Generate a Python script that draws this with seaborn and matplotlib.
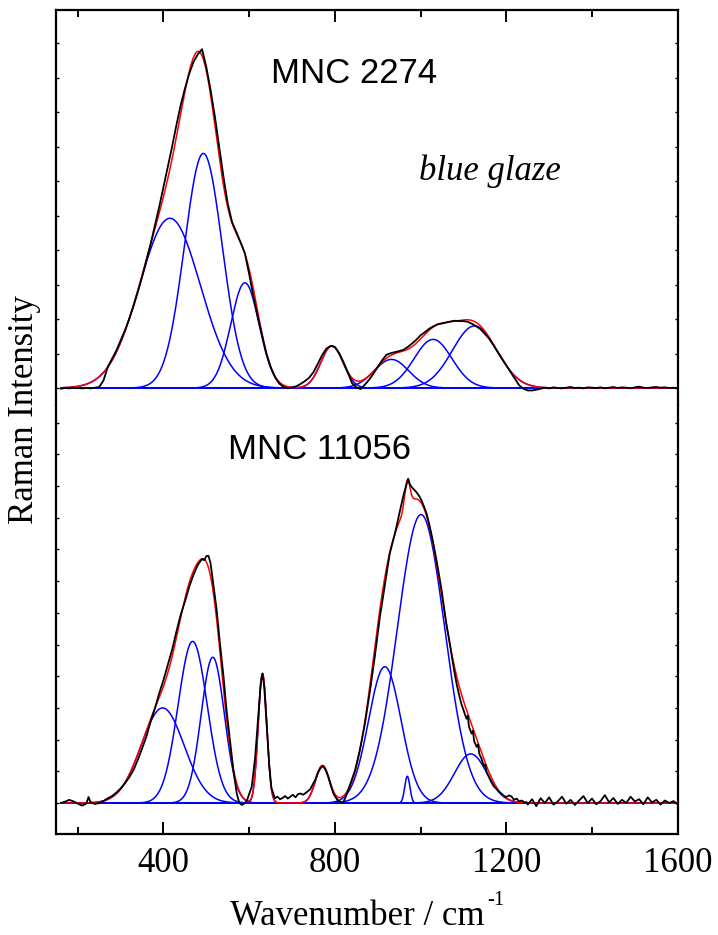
import numpy as np
import matplotlib
matplotlib.use("Agg")
import matplotlib.pyplot as plt
import seaborn as sns
from matplotlib.ticker import FixedLocator

# ---------------- data ----------------
x_major = [400, 800, 1200, 1600]
x_minor = [200, 600, 1000, 1400]

# fitted band parameters (position cm-1, height, FWHM cm-1)
top_centers = [415, 493, 590, 793, 932, 1029, 1126]
top_heights = [4.92, 6.80, 3.05, 1.22, 0.83, 1.41, 1.80]
top_fwhm = [167, 104, 78, 61, 94, 104, 122]

bot_centers = [398, 468, 515, 631, 771, 916.5, 969, 1001, 1117]
bot_heights = [3.00, 5.10, 4.60, 4.09, 1.18, 4.30, 0.85, 9.10, 1.55]
bot_fwhm = [118, 80, 64, 23.5, 38, 89.5, 14, 130, 89.5]

# measured spectrum MNC 2274 (blue glaze)
top_x = list(range(160, 1610, 10))
top_y = [-0.02, 0.0, -0.01, 0.01, 0.0, -0.01, 0.0, -0.01, 0.01, 0.03,
         0.22, 0.61, 0.85, 1.09, 1.38, 1.67, 2.0, 2.37, 2.78, 3.22,
         3.70, 4.18, 4.71, 5.25, 5.83, 6.41, 6.99, 7.61, 8.19, 8.68,
         9.11, 9.45, 9.67, 9.82, 9.30, 8.63, 7.86, 6.99, 6.12, 5.34,
         4.81, 4.52, 4.22, 3.90, 3.30, 2.64, 2.06, 1.53, 1.00, 0.61,
         0.32, 0.13, 0.03, -0.01, 0.02, 0.05, 0.12, 0.20, 0.30, 0.46,
         0.70, 0.95, 1.14, 1.22, 1.19, 1.01, 0.75, 0.46, 0.14, 0.02,
         -0.03, 0.10, 0.24, 0.42, 0.61, 0.80, 0.96, 1.01, 1.04, 1.07,
         1.11, 1.19, 1.29, 1.40, 1.53, 1.62, 1.72, 1.79, 1.85, 1.87,
         1.90, 1.93, 1.95, 1.94, 1.94, 1.92, 1.86, 1.79, 1.70, 1.57,
         1.43, 1.24, 1.04, 0.85, 0.66, 0.46, 0.27, 0.08, -0.02, -0.07,
         -0.07, -0.05, -0.02, 0.01, -0.01, 0.02, 0.0, -0.01, 0.01, 0.03,
         0.0, 0.01, -0.01, 0.02, 0.01, 0.0, 0.02, -0.01, 0.01, 0.03,
         0.0, 0.02, 0.01, -0.01, 0.02, 0.04, 0.01, 0.0, 0.02, 0.03,
         0.01, 0.02, 0.0, 0.01, -0.01]

# measured spectrum MNC 11056
bot_x = [160, 170, 180, 190, 200, 210, 220, 225, 230, 240, 250, 260, 270, 280,
         290, 300, 310, 320, 330, 340, 350, 360, 370, 380, 390, 400, 410, 420,
         430, 440, 450, 460, 470, 480, 490, 495, 500, 505, 510, 516, 524, 532,
         540, 547, 555, 563, 571, 577, 583, 590, 595, 606, 614, 621, 627, 631,
         635, 641, 647, 652, 660, 666, 672, 678, 684, 690, 696, 702, 708, 714,
         720, 726, 732, 742, 754, 760, 766, 772, 778, 784, 790, 797, 806, 812,
         818, 824, 835, 847, 858, 870, 882, 893, 905, 917, 928, 940, 952, 961,
         966, 971, 975, 979, 985, 990, 996, 1002, 1008, 1014, 1020, 1025, 1031,
         1037, 1043, 1049, 1055, 1060, 1066, 1072, 1078, 1084, 1090, 1095, 1101,
         1107, 1110, 1113, 1119, 1122, 1125, 1131, 1134, 1137, 1142, 1148, 1151,
         1154, 1160, 1165, 1171, 1177, 1183, 1189, 1195, 1200, 1206, 1212, 1218,
         1224, 1230, 1236, 1242, 1247, 1250, 1260, 1270, 1280, 1290, 1300, 1310,
         1320, 1330, 1340, 1350, 1360, 1370, 1380, 1390, 1400, 1410, 1420, 1430,
         1440, 1450, 1460, 1470, 1480, 1490, 1500, 1510, 1520, 1530, 1540, 1550,
         1560, 1570, 1580, 1590, 1600]
bot_y = [0.0, 0.04, 0.10, 0.05, -0.02, -0.08, -0.02, 0.19, 0.02, -0.03, 0.0, 0.06,
         0.15, 0.22, 0.33, 0.46, 0.62, 0.81, 1.04, 1.36, 1.72, 2.09, 2.57, 2.99,
         3.46, 3.88, 4.35, 4.83, 5.40, 5.93, 6.35, 6.82, 7.20, 7.51, 7.70, 7.66,
         7.79, 7.80, 7.55, 6.93, 6.10, 5.00, 4.00, 2.95, 1.99, 1.04, 0.30, 0.0,
         -0.06, 0.0, 0.09, 0.52, 1.46, 2.72, 3.78, 4.09, 3.67, 2.41, 1.15, 0.46,
         0.15, 0.20, 0.12, 0.16, 0.22, 0.14, 0.20, 0.26, 0.18, 0.28, 0.30, 0.26,
         0.32, 0.43, 0.73, 0.95, 1.09, 1.17, 1.05, 0.85, 0.57, 0.28, 0.09, 0.04,
         0.0, 0.15, 0.56, 1.03, 1.66, 2.50, 3.55, 4.61, 5.87, 6.92, 7.87, 8.50,
         9.23, 9.76, 10.0, 10.23, 10.05, 9.97, 9.88, 9.81, 9.70, 9.55, 9.35, 9.13,
         8.80, 8.50, 8.10, 7.66, 7.20, 6.71, 6.15, 5.66, 5.20, 4.71, 4.20, 3.76,
         3.40, 3.13, 2.90, 2.66, 2.75, 2.40, 2.19, 2.28, 1.95, 1.77, 1.85, 1.55,
         1.40, 1.15, 1.22, 0.98, 0.80, 0.66, 0.52, 0.45, 0.35, 0.29, 0.22, 0.19,
         0.24, 0.21, 0.10, 0.14, 0.05, 0.08, 0.02, 0.03, -0.05, 0.12, -0.10, 0.15,
         0.0, 0.18, -0.05, 0.05, 0.20, -0.02, 0.10, -0.06, 0.08, 0.22, 0.0, 0.14,
         -0.04, 0.06, 0.25, 0.02, 0.16, -0.03, 0.10, 0.0, 0.20, 0.05, 0.12, -0.04,
         0.18, 0.02, 0.10, -0.05, 0.08, 0.0, 0.06, -0.04]

# ---------------- style ----------------
sns.set_style("ticks")
plt.rcParams["font.family"] = ["Liberation Serif", "DejaVu Serif"]
for key in ("text.color", "axes.labelcolor", "xtick.color", "ytick.color",
            "axes.edgecolor"):
    plt.rcParams[key] = "black"

FS = 25
BLUE, RED = "#0000ff", "#ff0000"

fig = plt.figure(figsize=(7.18, 9.35), dpi=100)
ax_top = fig.add_axes([0.0779, 0.5668, 0.866, 0.4225])
ax_bot = fig.add_axes([0.0779, 0.1080, 0.866, 0.4588])

grid = np.arange(160, 1601, 2.0)


def band(c, h, w):
    return h * np.exp(-4 * np.log(2) * (grid - c) ** 2 / w ** 2)


def draw(ax, centers, heights, fwhm, xs, ys):
    total = np.zeros_like(grid)
    for c, h, w in zip(centers, heights, fwhm):
        b = band(c, h, w)
        total += b
        sns.lineplot(x=grid, y=b, ax=ax, color=BLUE, lw=1.1,
                     estimator=None, sort=False, zorder=2)
    sns.lineplot(x=grid, y=total, ax=ax, color=RED, lw=1.1,
                 estimator=None, sort=False, zorder=3)
    sns.lineplot(x=xs, y=ys, ax=ax, color="black", lw=1.3,
                 estimator=None, sort=False, zorder=4)


draw(ax_top, top_centers, top_heights, top_fwhm, top_x, top_y)
draw(ax_bot, bot_centers, bot_heights, bot_fwhm, bot_x, bot_y)

ax_top.set_ylim(-0.493, 10.957)
ax_bot.set_ylim(-0.978, 12.555)

for ax in (ax_top, ax_bot):
    ax.set_xlim(149, 1600)
    ax.set_xlabel("")
    ax.set_ylabel("")
    ax.xaxis.set_major_locator(FixedLocator(x_major))
    ax.xaxis.set_minor_locator(FixedLocator(x_minor))
    for s in ax.spines.values():
        s.set_linewidth(1.6)
        s.set_color("black")
    ax.tick_params(axis="x", which="major", direction="in", length=8.5, width=1.4)
    ax.tick_params(axis="x", which="minor", direction="in", length=5, width=1.4)
    ax.tick_params(axis="y", which="major", direction="in", length=2.5, width=1.0,
                   left=True, right=True, labelleft=False, labelright=False)
    ax.set_facecolor("white")

ax_top.set_yticks(range(0, 11))
ax_bot.set_yticks(range(0, 13))

ax_top.spines["bottom"].set_visible(False)
ax_bot.spines["top"].set_visible(False)
ax_top.tick_params(axis="x", which="both", top=True, bottom=False,
                   labelbottom=False, labeltop=False)
ax_bot.tick_params(axis="x", which="both", top=False, bottom=True,
                   labelbottom=True, labelsize=FS, pad=9)

ax_top.text(652, 8.83, "MNC 2274", family=["Liberation Sans", "DejaVu Sans"],
            fontsize=FS, ha="left", va="baseline")
ax_top.text(996.5, 6.03, "blue glaze", style="italic", fontsize=FS,
            ha="left", va="baseline")
ax_bot.text(551, 10.84, "MNC 11056", family=["Liberation Sans", "DejaVu Sans"],
            fontsize=FS, ha="left", va="baseline")

# x-axis title with a small "-1" superscript
fig.text(484 / 718, 1 - 925 / 935, "Wavenumber / cm", fontsize=FS,
         ha="right", va="baseline")
fig.text(487 / 718, 1 - 905 / 935, "-1", fontsize=15,
         ha="left", va="baseline")
fig.text(25 / 718, 1 - 410 / 935, "Raman Intensity", fontsize=FS, rotation=90,
         ha="center", va="center")

fig.savefig("out.png", dpi=100, facecolor="white")
